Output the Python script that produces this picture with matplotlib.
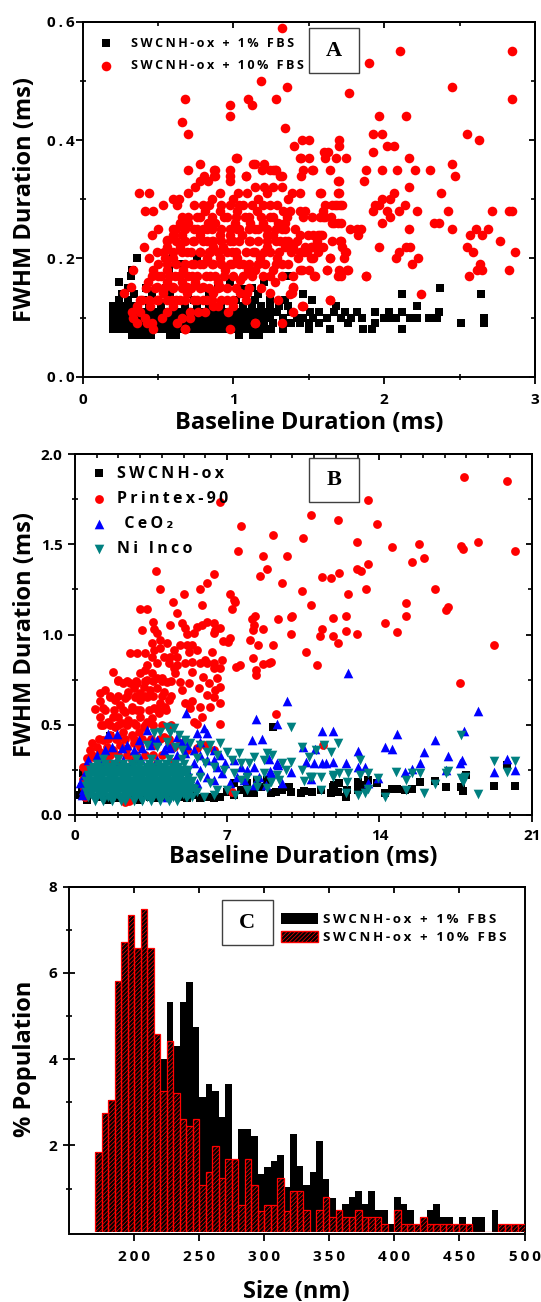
import matplotlib
matplotlib.use("Agg")
import matplotlib.pyplot as plt
from matplotlib.patches import Rectangle, Patch
from matplotlib.ticker import FixedLocator
from matplotlib.legend_handler import HandlerTuple

# ---------------- DATA ----------------
# Panel A : Baseline duration vs FWHM duration (ms)
a_red_pts = [
    (1.325,0.59),(2.106,0.55),(2.85,0.55),(1.90,0.53),(1.18,0.50),(1.357,0.49),(2.447,0.49),(0.677,0.47),
    (1.094,0.47),(1.12,0.46),(1.279,0.47),(1.763,0.48),(2.85,0.47),(0.979,0.46),(0.979,0.44),(0.657,0.43),
    (0.696,0.41),(1.341,0.42),(1.963,0.44),(2.147,0.44),(1.924,0.41),(1.986,0.41),(2.546,0.41),(2.627,0.40),
    (1.456,0.40),(1.502,0.40),(1.403,0.39),(1.60,0.38),(1.625,0.38),(1.703,0.40),(1.703,0.39),(1.924,0.38),
    (2.02,0.39),(2.067,0.39),(1.018,0.37),(1.445,0.37),(1.502,0.37),(1.606,0.37),(1.68,0.37),(1.744,0.37),
    (2.166,0.37),(2.447,0.36),(2.47,0.34),(2.304,0.35),(2.205,0.35),(2.085,0.35),(1.986,0.35),(1.882,0.35),
    (1.866,0.33),(1.703,0.33),(1.525,0.35),(1.445,0.34),(1.463,0.35),(0.696,0.35),(0.776,0.36),(0.873,0.35),
    (0.873,0.34),(0.979,0.35),(1.14,0.36),(1.203,0.36),(1.081,0.34),(1.26,0.35),(1.283,0.35),(1.325,0.34),
    (2.166,0.32),(2.062,0.31),(2.039,0.30),(2.378,0.31),(1.986,0.30),(1.963,0.29),(1.924,0.28),(1.94,0.29),
    (2.02,0.28),(2.039,0.27),(2.101,0.28),(2.14,0.29),(2.22,0.28),(2.424,0.28),(2.712,0.28),(2.827,0.28),
    (2.846,0.28),(1.986,0.26),(2.166,0.25),(2.327,0.26),(2.366,0.26),(2.447,0.25),(2.569,0.24),(2.608,0.25),
    (2.65,0.24),(2.689,0.25),(2.77,0.23),(2.546,0.22),(2.591,0.21),(2.632,0.19),(2.65,0.18),(2.615,0.18),
    (2.562,0.17),(2.827,0.18),(2.869,0.21),(1.963,0.22),(2.101,0.21),(2.078,0.20),(2.147,0.22),(2.17,0.22),
    (2.223,0.20),(2.182,0.19),(2.246,0.14),(1.882,0.17),(1.82,0.25),(1.848,0.25),(1.825,0.24),(1.744,0.21),
    (1.733,0.20),(1.751,0.18),(1.703,0.18),(1.71,0.17),(1.64,0.20),(1.618,0.18),(1.64,0.13),(1.537,0.17),
    (1.456,0.18),(1.398,0.17),(1.398,0.15),(1.376,0.14),(1.456,0.12),(1.398,0.11),(1.325,0.09),(1.14,0.09),
    (0.979,0.08),(0.677,0.08),(1.583,0.31),(1.594,0.28),(1.652,0.29),(1.687,0.29),(1.721,0.29),(1.703,0.31),
    (1.648,0.27),(1.606,0.27),(1.664,0.26),(1.71,0.26),(1.525,0.24),(1.571,0.24),(1.652,0.23),(1.71,0.23),
    (1.594,0.22),(1.721,0.22),(1.47,0.21),(1.514,0.22),(1.56,0.21),(1.514,0.20),
    (0.276,0.141),(0.32,0.151),(0.336,0.18),(0.376,0.31),(0.442,0.31),(0.413,0.28),(0.469,0.28),(0.535,0.29),
    (0.502,0.25),(0.458,0.24),(0.409,0.22),(0.442,0.20),(0.49,0.21),(0.557,0.231),(0.60,0.30),(0.639,0.30),
    (0.623,0.29),(0.70,0.31),(0.745,0.32),(0.778,0.33),(0.805,0.34),(0.833,0.33),(0.878,0.35),(0.878,0.34),
    (0.855,0.30),(0.911,0.31),(0.80,0.29),(0.756,0.27),(0.811,0.28),(0.645,0.26),(0.70,0.26),(0.656,0.27),
    (0.601,0.24),(0.656,0.24),(0.557,0.22),(0.546,0.20),(0.601,0.20),(0.645,0.22),(0.69,0.21),(0.734,0.23),
    (0.778,0.24),(0.833,0.26),(0.878,0.26),(0.911,0.28),(0.955,0.27),(0.977,0.29),(0.999,0.30),(0.977,0.34),
    (0.977,0.33),(1.021,0.37),(1.083,0.34),(1.032,0.31),(1.088,0.31),(1.021,0.28),(1.065,0.29),(1.01,0.26),
    (1.076,0.27),(1.11,0.26),(1.132,0.36),(1.187,0.35),(1.143,0.32),(1.20,0.32),(1.165,0.30),(1.22,0.31),
    (1.154,0.28),(1.198,0.29),(1.143,0.25),(1.198,0.26),(1.054,0.24),(1.11,0.23),(0.977,0.24),(0.999,0.23),
    (0.911,0.24),(0.933,0.22),(0.866,0.22),(0.844,0.21),(0.778,0.21),(0.822,0.20),(0.723,0.19),(0.778,0.19),
    (0.668,0.18),(0.723,0.17),(0.612,0.17),(0.557,0.18),(0.502,0.17),(0.469,0.18),(0.436,0.16),(0.49,0.151),
    (0.557,0.16),(0.601,0.151),(0.656,0.16),(0.69,0.151),(0.745,0.16),(0.80,0.151),(0.844,0.17),(0.90,0.16),
    (0.944,0.18),(0.988,0.19),(0.866,0.141),(0.911,0.151),(0.822,0.13),(0.756,0.13),(0.69,0.141),(0.645,0.13),
    (0.59,0.13),(0.535,0.141),(0.49,0.13),(0.447,0.12),(0.391,0.13),(0.358,0.12),(0.325,0.11),(0.38,0.11),
    (0.336,0.10),(0.358,0.09),(0.413,0.10),(0.424,0.09),(0.464,0.08),(0.458,0.09),(0.524,0.10),(0.557,0.11),
    (0.601,0.12),(0.623,0.09),(0.679,0.08),(0.656,0.10),(0.712,0.10),(0.712,0.11),(0.767,0.11),(0.811,0.11),
    (0.866,0.12),(0.90,0.12),(0.966,0.11),(0.955,0.13),(0.999,0.12),(1.143,0.09),(1.043,0.141),(1.088,0.141),
    (1.043,0.163),(1.099,0.18),(1.021,0.20),(1.065,0.19),(1.132,0.21),(1.176,0.20),(1.143,0.18),(1.198,0.17),
    (1.209,0.19),(1.22,0.22),(1.22,0.24),(1.021,0.25),(0.822,0.25),(0.756,0.25),(0.866,0.23),(0.601,0.25),
    (0.822,0.23),(0.988,0.21),(0.911,0.20),(0.866,0.19),
    (1.242,0.35),(1.275,0.35),(1.309,0.34),(1.264,0.32),(1.32,0.32),(1.364,0.30),(1.386,0.31),(1.441,0.31),
    (1.287,0.29),(1.331,0.28),(1.375,0.28),(1.242,0.27),(1.298,0.26),(1.342,0.26),(1.353,0.27),(1.32,0.25),
    (1.408,0.25),(1.264,0.24),(1.309,0.23),(1.364,0.23),(1.419,0.23),(1.342,0.22),(1.397,0.22),(1.242,0.21),
    (1.287,0.20),(1.32,0.19),(1.264,0.18),(1.32,0.17),(1.275,0.16),(1.242,0.141),(1.298,0.13),(1.397,0.151),
    (1.386,0.141),(1.459,0.12),(1.441,0.28),(1.475,0.28),(1.463,0.27),(1.519,0.27),(1.441,0.24),(1.497,0.24),
    (1.475,0.22),(1.519,0.22),(1.441,0.21),(1.486,0.21),(1.43,0.20),(1.53,0.20),(1.441,0.18),(1.503,0.18),
    (1.541,0.17),(1.574,0.27),(1.596,0.27),(1.563,0.24),(1.585,0.24),(1.552,0.23),(1.574,0.22),(1.651,0.26),
    (1.695,0.26),(1.64,0.20),(1.618,0.18),(1.64,0.13),(1.706,0.23),(1.739,0.21),(1.695,0.17),(1.762,0.18),
    (1.607,0.29),(1.673,0.29),(1.706,0.29),(1.574,0.31),(1.695,0.31),(1.695,0.33),(1.64,0.35),(1.519,0.35),
    (1.441,0.37),(1.773,0.25),(1.879,0.17),
]
# dense core of the 10% FBS cloud (rows: FWHM value -> baseline values)
a_red_cluster = {
    0.13: [0.38,0.44,0.50,0.56,0.62,0.68,0.74,0.80,0.86,0.92,1.00,1.08],
    0.15: [0.42,0.48,0.54,0.60,0.66,0.72,0.78,0.84,0.90,0.96,1.02,1.10,1.18],
    0.17: [0.46,0.52,0.58,0.64,0.70,0.76,0.82,0.88,0.94,1.00,1.06,1.12,1.24],
    0.19: [0.50,0.56,0.62,0.68,0.74,0.80,0.86,0.92,0.98,1.04,1.10,1.16,1.28,1.36],
    0.21: [0.54,0.60,0.66,0.72,0.78,0.84,0.90,0.96,1.02,1.08,1.14,1.20,1.30,1.38],
    0.23: [0.56,0.62,0.68,0.74,0.80,0.86,0.92,0.98,1.04,1.10,1.16,1.22,1.28,1.34],
    0.25: [0.62,0.68,0.74,0.80,0.86,0.92,0.98,1.04,1.10,1.16,1.22,1.28,1.34],
    0.27: [0.70,0.78,0.86,0.94,1.02,1.10,1.18,1.26],
    0.29: [0.74,0.84,0.92,1.04,1.12,1.24],
}
a_black_rows = {
    0.07: [0.33,0.37,0.41,0.45,0.58,0.62,1.04,1.13,1.17],
    0.08: [0.20,0.24,0.28,0.32,0.36,0.40,0.44,0.48,0.52,0.56,0.60,0.64,0.68,0.72,0.76,0.80,0.84,0.88,0.92,
           0.96,1.00,1.04,1.08,1.12,1.16,1.20,1.25,1.33,1.50,1.64,1.86,1.92,2.12],
    0.09: [0.20,0.24,0.28,0.32,0.36,0.40,0.44,0.48,0.52,0.56,0.60,0.64,0.68,0.72,0.76,0.80,0.84,0.88,0.92,
           0.96,1.00,1.04,1.08,1.12,1.16,1.20,1.26,1.38,1.44,1.50,1.57,1.76,1.94,2.51,2.66],
    0.10: [0.20,0.24,0.28,0.32,0.36,0.40,0.44,0.48,0.52,0.56,0.60,0.64,0.68,0.72,0.76,0.80,0.84,0.88,0.92,
           0.96,1.00,1.04,1.08,1.12,1.16,1.20,1.24,1.33,1.42,1.46,1.53,1.62,1.71,1.78,1.85,2.00,2.05,2.08,
           2.17,2.22,2.30,2.35,2.66],
    0.11: [0.20,0.24,0.28,0.32,0.36,0.40,0.44,0.48,0.52,0.56,0.60,0.64,0.68,0.72,0.76,0.80,0.84,0.88,0.92,
           0.96,1.00,1.04,1.08,1.12,1.16,1.20,1.24,1.29,1.38,1.51,1.57,1.67,1.74,1.82,1.94,2.03,2.12,2.36],
    0.12: [0.20,0.24,0.28,0.32,0.36,0.44,0.52,0.60,0.68,0.76,0.84,0.92,1.00,1.06,1.12,1.18,1.24,1.30,1.36,
           1.68,2.22],
    0.13: [0.24,0.30,0.40,0.50,0.62,0.74,0.86,1.02,1.14,1.24,1.34,1.52],
    0.14: [0.26,0.34,0.46,0.58,0.70,0.84,1.06,1.16,1.46,2.12,2.64],
    0.15: [0.30,0.42,0.55,0.90,1.12,2.37],
}
a_black_extra = [(0.36,0.20),(0.32,0.17),(0.24,0.16),(0.33,0.18),(0.57,0.18),(0.60,0.20),(0.76,0.20),
                 (0.98,0.16),(1.36,0.17),(0.65,0.19),(1.20,0.16),(1.065,0.148)]

# Panel B
b_black_pts = [
    (9.1,0.49),(18.0,0.222),(19.86,0.277),(19.26,0.161),(20.23,0.161),(17.85,0.135),(17.77,0.153),(17.08,0.157),
    (16.54,0.19),(15.85,0.181),(15.49,0.142),(15.18,0.139),(14.82,0.142),(14.57,0.142),(14.26,0.124),(13.89,0.175),
    (13.46,0.194),(13.34,0.166),(13.03,0.185),(13.03,0.139),(12.46,0.102),(12.51,0.139),(12.15,0.175),(11.92,0.166),
    (11.77,0.124),(11.85,0.153),(12.08,0.129),(11.31,0.139),(10.92,0.129),(10.54,0.135),(10.38,0.124),(9.95,0.129),
    (9.85,0.153),(9.54,0.139),(9.23,0.129),(9.0,0.12),(1.62,0.437),(0.51,0.24),(8.85,0.194),(8.54,0.157),
    (8.23,0.12),(7.92,0.12),(7.62,0.139),(7.31,0.111),(7.0,0.129),(6.69,0.102),(6.38,0.092),(6.08,0.102),
    (5.77,0.092),(5.46,0.111),(5.15,0.092),(4.85,0.102),(4.54,0.111),(4.23,0.102),(3.77,0.092),(3.46,0.102),
    (3.0,0.083),(2.69,0.092),(2.38,0.083),(1.92,0.092),(1.46,0.083),(1.0,0.102),(0.54,0.083),(0.23,0.111),
    (0.31,0.157),(0.38,0.231),(7.31,0.175),(7.92,0.175),(8.38,0.194),(0.5,0.2),(0.45,0.13),
]
b_red_pts = [
    (17.89,1.874),(19.86,1.852),(13.49,1.745),(10.85,1.662),(12.11,1.634),(13.89,1.612),(9.12,1.551),(10.48,1.533),
    (12.98,1.512),(14.58,1.483),(15.82,1.50),(17.77,1.492),(17.83,1.474),(18.54,1.512),(20.23,1.463),(9.74,1.433),
    (15.48,1.402),(16.03,1.422),(13.46,1.392),(12.98,1.365),(13.14,1.354),(11.34,1.32),(11.77,1.315),(12.14,1.343),
    (9.54,1.283),(10.42,1.241),(13.37,1.252),(16.54,1.252),(12.57,1.223),(10.85,1.162),(15.23,1.173),(17.08,1.136),
    (17.15,1.151),(9.34,1.084),(9.95,1.095),(10.0,1.103),(11.85,1.093),(12.46,1.104),(15.2,1.104),(14.26,1.062),
    (11.34,1.03),(11.28,0.994),(9.92,1.003),(11.86,0.994),(12.45,1.021),(12.98,1.003),(14.82,1.012),(12.11,0.955),
    (9.12,0.942),(19.28,0.942),(10.6,0.901),(9.0,0.846),(11.12,0.831),(17.71,0.733),(9.25,0.56),(11.4,0.39),
    (6.69,1.732),(7.62,1.603),(7.51,1.463),(3.72,1.352),(3.92,1.252),(6.38,1.333),(6.08,1.283),(5.74,1.252),
    (5.0,1.223),(4.49,1.182),(4.69,1.121),(5.85,1.163),(7.15,1.223),(7.31,1.191),(7.38,1.182),(7.23,1.141),
    (3.0,1.141),(3.31,1.141),(3.58,1.071),(3.08,1.025),(3.62,1.03),(4.38,1.053),(4.92,1.066),(5.08,1.034),
    (5.15,1.003),(5.46,1.006),(5.62,1.043),(5.85,1.053),(6.08,1.071),(6.38,1.066),(6.46,1.025),(6.38,1.01),
    (6.69,1.034),(6.82,0.966),(8.15,1.088),(8.29,1.103),(8.18,1.027),(8.21,1.051),(8.05,0.971),(8.42,0.944),
    (8.66,1.029),(8.5,1.325),(8.66,1.434),(8.85,1.365),(8.18,0.87),(8.31,0.805),(8.31,0.777),(8.66,0.838),
    (8.9,0.844),(7.12,0.982),(7.03,0.96),(7.4,0.822),(7.58,0.829),(6.77,0.859),(6.69,0.813),(6.38,0.84),
    (6.38,0.813),(6.08,0.84),(5.77,0.84),(6.0,0.859),(5.38,0.849),(5.38,0.794),(5.89,0.766),(6.15,0.729),
    (6.46,0.693),(5.69,0.702),(6.08,0.665),(6.38,0.656),(6.23,0.60),(5.77,0.60),(5.85,0.545),(6.69,0.622),
    (6.69,0.504),(5.62,0.504),(5.08,0.619),(5.38,0.633),(4.92,0.693),(4.85,0.739),(4.62,0.785),(4.69,0.831),
    (4.23,0.739),(4.0,0.757),(4.38,0.877),(4.69,0.877),(4.54,0.914),(4.85,0.942),(4.23,0.951),(3.92,0.923),
    (3.54,0.951),(3.62,0.914),(4.08,0.877),(3.77,0.84),(3.54,0.877),(3.31,0.831),(3.23,0.896),(2.85,0.899),
    (3.23,0.803),(3.0,0.785),(3.54,0.785),(3.77,0.757),(3.31,0.748),(3.15,0.711),(3.46,0.693),(3.77,0.702),
    (4.08,0.683),(4.31,0.637),(4.15,0.60),(3.92,0.619),(3.62,0.591),(3.85,0.563),(3.31,0.656),(3.0,0.674),
    (2.85,0.729),(2.54,0.729),(2.23,0.729),(2.0,0.748),(1.77,0.794),(1.38,0.693),(1.15,0.674),(1.15,0.633),
    (0.92,0.585),(1.31,0.591),(1.62,0.656),(1.85,0.637),(2.08,0.609),(2.31,0.646),(2.46,0.683),(2.69,0.702),
    (2.77,0.656),(3.0,0.637),(2.62,0.60),(2.85,0.582),(2.31,0.572),(2.0,0.545),(1.77,0.545),(1.54,0.517),
    (1.15,0.545),(1.31,0.499),(1.85,0.489),(2.15,0.508),(2.46,0.526),(2.69,0.508),(3.0,0.545),(3.31,0.517),
    (3.54,0.536),(3.15,0.489),(2.92,0.462),(2.62,0.443),(2.23,0.462),(2.0,0.425),(1.62,0.443),(1.31,0.416),
    (1.0,0.379),(0.77,0.397),(1.15,0.351),(1.46,0.379),(1.77,0.36),(2.08,0.388),(2.38,0.369),(2.69,0.397),
    (3.0,0.379),(3.38,0.406),(3.69,0.388),(4.08,0.434),(4.31,0.406),(4.54,0.379),(4.85,0.397),(5.15,0.36),
    (5.62,0.369),(6.0,0.388),(6.38,0.36),(0.57,0.314),(0.38,0.268),(0.69,0.36),(0.85,0.323),(1.38,0.305),
    (1.92,0.286),(2.62,0.305),(3.77,0.286),(4.54,0.295),(1.62,0.286),(1.0,0.277),(7.2,0.13),(3.92,0.969),
    (3.77,1.006),(4.31,0.84),(4.54,0.813),(5.15,0.942),(5.38,0.942),(5.23,0.905),(5.62,0.914),(5.08,0.84),
    (5.23,0.729),(5.31,0.591),(5.46,0.517),(6.31,0.905),(6.54,0.757),(6.69,0.711),(2.54,0.899),
    (0.35,0.20),(0.4,0.15),(0.45,0.10),(0.6,0.28),(2.5,0.08),(2.3,0.07),(0.5,0.24),
]
# dense part of the Printex-90 cloud (rows: FWHM value -> baseline values)
b_red_cluster = {
    0.33: [0.8,1.2,1.6,2.0,2.4,2.8,3.2,3.6,4.0],
    0.42: [1.1,1.5,1.9,2.3,2.7,3.1,3.5,3.9,4.3],
    0.50: [1.2,1.6,2.0,2.4,2.8,3.2,3.6,4.0,4.4],
    0.58: [1.4,1.8,2.2,2.6,3.0,3.4,3.8,4.2],
    0.66: [1.6,2.0,2.4,2.8,3.2,3.6,4.0,4.4],
    0.74: [2.0,2.4,2.8,3.2,3.6,4.0,4.4],
}
b_blue_pts = [
    (12.57,0.785),(9.74,0.633),(18.54,0.576),(9.28,0.504),(11.34,0.465),(11.85,0.465),(14.8,0.447),(16.54,0.416),
    (14.26,0.379),(14.58,0.366),(10.49,0.375),(11.05,0.364),(13.03,0.357),(16.03,0.351),(17.15,0.329),(10.62,0.295),
    (10.97,0.29),(11.34,0.286),(11.54,0.29),(11.85,0.295),(12.46,0.286),(13.03,0.268),(13.34,0.264),(9.34,0.277),
    (9.92,0.24),(15.18,0.24),(15.49,0.253),(15.88,0.286),(17.06,0.249),(17.72,0.286),(17.8,0.305),(17.89,0.465),
    (19.26,0.236),(19.86,0.308),(20.23,0.249),(10.85,0.199),(9.54,0.175),(13.46,0.175),(13.92,0.203),(9.0,0.231),
    (9.31,0.286),(5.09,0.567),(5.92,0.48),(6.08,0.452),(5.62,0.452),(4.69,0.434),(4.92,0.406),(3.31,0.471),
    (1.92,0.449),(1.54,0.449),(2.92,0.416),(3.77,0.416),(4.23,0.388),(5.15,0.388),(5.77,0.406),(6.38,0.36),
    (6.69,0.332),(6.92,0.286),(7.31,0.305),(7.62,0.268),(7.92,0.249),(8.23,0.268),(8.31,0.53),(8.15,0.416),
    (8.62,0.419),(1.0,0.332),(1.38,0.36),(1.69,0.379),(2.15,0.369),(2.38,0.388),(2.69,0.36),(3.08,0.369),
    (3.46,0.388),(3.54,0.416),(4.08,0.36),(4.38,0.369),(4.69,0.332),(5.08,0.342),(5.46,0.36),(5.77,0.332),
    (6.08,0.305),(6.38,0.305),(6.54,0.268),(5.77,0.249),(6.08,0.212),(5.46,0.286),(5.15,0.249),(0.62,0.305),
    (0.85,0.268),(1.15,0.286),(1.46,0.249),(1.85,0.286),(2.23,0.305),(2.62,0.286),(3.0,0.314),(3.38,0.286),
    (3.77,0.305),(0.38,0.139),(0.23,0.175),(3.92,0.139),(4.23,0.102),(4.54,0.129),(5.08,0.194),(5.62,0.175),
    (6.38,0.194),(6.77,0.231),(7.15,0.175),(7.46,0.212),(7.77,0.194),(8.23,0.166),(8.46,0.212),(8.77,0.166),
    (8.98,0.246),(8.9,0.311),(9.3,0.283),(0.3,0.11),(0.4,0.22),(0.5,0.17),
]
b_teal_pts = [
    (9.92,0.489),(17.74,0.443),(11.46,0.388),(11.77,0.351),(12.09,0.397),(10.46,0.379),(10.77,0.323),(11.08,0.36),
    (9.08,0.332),(9.54,0.29),(9.95,0.295),(10.42,0.249),(10.82,0.212),(11.31,0.212),(11.85,0.222),(12.15,0.231),
    (12.54,0.231),(13.12,0.305),(13.12,0.222),(13.46,0.231),(13.92,0.203),(9.69,0.249),(9.31,0.222),(14.77,0.24),
    (15.23,0.194),(15.49,0.231),(15.85,0.231),(16.54,0.172),(17.08,0.231),(17.15,0.246),(17.77,0.203),(17.92,0.212),
    (17.85,0.185),(18.54,0.116),(19.25,0.299),(19.85,0.24),(20.23,0.299),(16.05,0.12),(15.22,0.139),(14.26,0.102),
    (13.03,0.111),(13.34,0.12),(12.46,0.124),(12.51,0.185),(11.31,0.139),(11.85,0.212),(10.92,0.212),(10.54,0.19),
    (9.0,0.185),(9.38,0.194),(13.46,0.142),
    (4.23,0.489),(4.54,0.48),(4.38,0.452),(3.92,0.462),(3.62,0.452),(4.77,0.443),(5.08,0.416),(5.31,0.397),
    (3.31,0.388),(3.77,0.379),(4.23,0.406),(4.62,0.379),(4.92,0.36),(5.77,0.388),(6.23,0.388),(6.69,0.397),
    (6.08,0.351),(6.54,0.332),(7.0,0.351),(7.54,0.342),(7.23,0.305),(7.62,0.286),(8.0,0.286),(8.23,0.323),
    (8.69,0.305),(8.85,0.342),(5.62,0.314),(6.0,0.286),(6.38,0.268),(6.85,0.249),(7.31,0.231),(7.62,0.194),
    (7.92,0.212),(8.38,0.194),(8.69,0.231),(5.77,0.212),(6.23,0.175),(6.54,0.139),(5.92,0.102),(6.38,0.111),
    (7.0,0.139),(7.38,0.111),(7.92,0.139),(8.38,0.157),(8.85,0.148),(5.38,0.148),(5.15,0.102),
]
# dense Ni Inco cluster at short baseline durations (rows: FWHM value -> baseline values)
b_teal_cluster = {
    0.075: [0.9,1.3,1.7,2.1,2.3,2.7,3.1,3.5,3.9,4.3,4.7],
    0.10: [0.6,0.9,1.2,1.5,1.8,2.1,2.4,2.7,3.0,3.3,3.6,3.9,4.2,4.5,4.8,5.1,5.4],
    0.115: [0.75,1.05,1.35,1.65,1.95,2.25,2.55,2.85,3.15,3.45,3.75,4.05,4.35,4.65,4.95,5.25],
    0.13: [0.5,0.8,1.1,1.4,1.7,2.0,2.3,2.6,2.9,3.2,3.5,3.8,4.1,4.4,4.7,5.0,5.3,5.6],
    0.145: [0.65,0.95,1.25,1.55,1.85,2.15,2.45,2.75,3.05,3.35,3.65,3.95,4.25,4.55,4.85,5.15,5.45],
    0.16: [0.5,0.8,1.1,1.4,1.7,2.0,2.3,2.6,2.9,3.2,3.5,3.8,4.1,4.4,4.7,5.0,5.3],
    0.175: [0.65,0.95,1.25,1.55,1.85,2.15,2.45,2.75,3.05,3.35,3.65,3.95,4.25,4.55,4.85,5.15],
    0.19: [0.5,0.8,1.1,1.4,1.7,2.0,2.3,2.6,2.9,3.2,3.5,3.8,4.1,4.4,4.7,5.0,5.4],
    0.205: [0.65,0.95,1.25,1.55,1.85,2.15,2.45,2.75,3.05,3.35,3.65,3.95,4.25,4.55,4.85,5.2],
    0.22: [0.6,0.9,1.2,1.5,1.8,2.1,2.4,2.7,3.0,3.3,3.6,3.9,4.2,4.5,4.8,5.1],
    0.235: [0.75,1.05,1.35,1.65,1.95,2.25,2.55,2.85,3.15,3.45,3.75,4.05,4.35,4.65,4.95],
    0.25: [0.7,1.0,1.3,1.6,1.9,2.2,2.5,2.8,3.1,3.4,3.7,4.0,4.3,4.6,4.9,5.2],
    0.265: [0.85,1.15,1.45,1.75,2.05,2.35,2.65,2.95,3.25,3.55,3.85,4.15,4.45,4.75],
    0.28: [1.0,1.4,1.8,2.2,2.6,3.0,3.4,3.8,4.2,4.6,5.0],
    0.31: [1.3,2.0,2.8,3.5,4.3,4.9],
}

# Panel C : size histogram, 5 nm bins starting at 170 nm
c_bin_start = 170
c_bin_width = 5
c_fbs1 = [0, 0.16, 0.32, 0.48, 0.8, 1.1, 1.6, 2.1, 2.9, 3.5,
          4.0, 5.33, 4.31, 5.33, 5.78, 4.75, 3.12, 3.42, 3.26, 2.66,
          3.42, 1.34, 2.38, 2.38, 2.23, 1.34, 1.50, 1.64, 1.79, 1.04,
          2.26, 1.53, 1.08, 1.39, 2.11, 1.23, 0.79, 0.35, 0.64, 0.80,
          0.95, 0.64, 0.95, 0.50, 0.50, 0.19, 0.80, 0.64, 0.50, 0.19,
          0.19, 0.50, 0.64, 0.35, 0.35, 0.19, 0.35, 0.19, 0.35, 0.35,
          0, 0.50, 0.19, 0.19, 0.19, 0.19]
c_fbs10 = [1.85, 2.76, 3.06, 5.81, 6.71, 7.34, 6.57, 7.48, 6.57, 4.58,
           3.26, 4.43, 3.22, 2.61, 2.45, 2.61, 1.08, 1.39, 1.99, 1.24,
           1.69, 1.69, 0.62, 1.69, 1.08, 0.47, 0.62, 0.62, 1.24, 0.47,
           0.95, 0.95, 0.50, 0, 0.50, 0.80, 0.35, 0.50, 0.35, 0.35,
           0.50, 0.35, 0.35, 0.35, 0.19, 0, 0.50, 0.19, 0.19, 0.19,
           0.35, 0.19, 0.19, 0.19, 0.19, 0.19, 0.19, 0.19, 0, 0,
           0, 0, 0.19, 0.19, 0.19, 0.19]

lab_A = ["SWCNH-ox + 1% FBS", "SWCNH-ox + 10% FBS"]
lab_B = ["SWCNH-ox", "Printex-90", " CeO\u2082", "Ni Inco"]

# ---------------- STYLE ----------------
plt.rcParams['font.family'] = ['Open Sans', 'DejaVu Sans']
plt.rcParams['font.weight'] = 'bold'
plt.rcParams['axes.linewidth'] = 1.4
plt.rcParams['hatch.color'] = 'black'
plt.rcParams['hatch.linewidth'] = 1.6

THIN = '\u2009'
def sp(s):
    return THIN.join(s)

def unzip(pts):
    return [p[0] for p in pts], [p[1] for p in pts]

def rows_to_pts(rows):
    return [(x, y) for y, xs in rows.items() for x in xs]

fig = plt.figure(figsize=(5.41, 13.02), dpi=100)
W, H = 541.0, 1302.0
def axes_px(l, t, r, b):
    return fig.add_axes([l / W, 1 - b / H, (r - l) / W, (b - t) / H])

axA = axes_px(82.7, 21.7, 535.0, 376.7)
axB = axes_px(75.0, 454.0, 531.7, 815.0)
axC = axes_px(69.1, 886.7, 524.5, 1231.7)

def style(ax, xt, xlabs, xmin, yt, ylabs, ymin, fs, xpad, ypad, ymajdir='out'):
    ax.set_xticks(xt)
    ax.set_xticklabels(xlabs)
    ax.set_yticks(yt)
    ax.set_yticklabels(ylabs)
    if xmin is not None:
        ax.xaxis.set_minor_locator(FixedLocator(xmin))
    if ymin is not None:
        ax.yaxis.set_minor_locator(FixedLocator(ymin))
    ax.tick_params(axis='x', which='major', direction='out', length=5, width=1.3, labelsize=fs, pad=xpad)
    ax.tick_params(axis='y', which='major', direction=ymajdir, length=5 if ymajdir == 'out' else 9,
                   width=1.3, labelsize=fs, pad=ypad)
    ax.tick_params(which='minor', direction='inout', length=4.5, width=1.2)

def mirror(ax, xt, xmin, yt, ymin, do_right=True):
    sx = ax.secondary_xaxis('top')
    sx.set_xticks(xt)
    sx.set_xticklabels([])
    if xmin is not None:
        sx.xaxis.set_minor_locator(FixedLocator(xmin))
    sx.tick_params(which='major', direction='in', length=4.5, width=1.3)
    sx.tick_params(which='minor', direction='in', length=3, width=1.2)
    if do_right:
        sy = ax.secondary_yaxis('right')
        sy.set_yticks(yt)
        sy.set_yticklabels([])
        if ymin is not None:
            sy.yaxis.set_minor_locator(FixedLocator(ymin))
        sy.tick_params(which='major', direction='in', length=4.5, width=1.3)
        sy.tick_params(which='minor', direction='in', length=3, width=1.2)

def letter_box(ax, x0, y0, x1, y1, letter):
    ax.add_patch(Rectangle((x0, y0), x1 - x0, y1 - y0, transform=ax.transAxes,
                           facecolor='white', edgecolor='#404040', lw=1.0, zorder=10, clip_on=False))
    ax.text((x0 + x1) / 2, (y0 + y1) / 2, letter, transform=ax.transAxes, ha='center', va='center',
            family='Liberation Serif', fontweight='bold', fontsize=16, zorder=11)

# ---------------- PANEL A ----------------
bx, by = unzip(rows_to_pts(a_black_rows) + a_black_extra)
rx, ry = unzip(a_red_pts + rows_to_pts(a_red_cluster))
hA1 = axA.scatter(bx, by, s=34, marker='s', c='black', linewidths=0, zorder=3)
hA2 = axA.scatter(rx, ry, s=48, marker='o', c='#ff0000', linewidths=0, zorder=4)
axA.set_xlim(0, 3)
axA.set_ylim(0, 0.6)
xtA = [0, 1, 2, 3]
ytA = [0.0, 0.2, 0.4, 0.6]
style(axA, xtA, [str(v) for v in xtA], [0.5, 1.5, 2.5], ytA, [sp(f"{v:.1f}") for v in ytA],
      [0.1, 0.3, 0.5], 11, 6.5, 0.5)
mirror(axA, xtA, [0.5, 1.5, 2.5], ytA, [0.1, 0.3, 0.5])
axA.set_xlabel("Baseline Duration (ms)", fontsize=17, fontweight='bold')
axA.set_ylabel("FWHM Duration (ms)", fontsize=17, fontweight='bold')
axA.xaxis.set_label_coords(0.5, -0.097)
axA.yaxis.set_label_coords(-0.100, 0.5)
axA.legend([hA1, hA2], [sp(t) for t in lab_A], loc='upper left', bbox_to_anchor=(0.038, 0.958),
           frameon=False, fontsize=9, borderpad=0, borderaxespad=0, handlelength=1.0,
           handletextpad=1.45, labelspacing=0.75, scatterpoints=1)
letter_box(axA, 0.5003, 0.8563, 0.6115, 0.9814, 'A')

# ---------------- PANEL B ----------------
kx, ky = unzip(b_black_pts)
px_, py_ = unzip(b_red_pts + rows_to_pts(b_red_cluster))
ux, uy = unzip(b_blue_pts)
tx, ty = unzip(b_teal_pts + rows_to_pts(b_teal_cluster))
hB1 = axB.scatter(kx, ky, s=26, marker='s', c='black', linewidths=0, zorder=3)
hB2 = axB.scatter(px_, py_, s=40, marker='o', c='#ff0000', linewidths=0, zorder=4)
hB3 = axB.scatter(ux, uy, s=48, marker='^', c='#0000ff', linewidths=0, zorder=5)
hB4 = axB.scatter(tx, ty, s=48, marker='v', c='#008080', linewidths=0, zorder=6)
axB.set_xlim(0, 21)
axB.set_ylim(0, 2.0)
xtB = [0, 7, 14, 21]
ytB = [0.0, 0.5, 1.0, 1.5, 2.0]
xminB = [v for v in range(1, 21) if v % 7 != 0]
yminB = [0.25, 0.75, 1.25, 1.75]
style(axB, xtB, [str(v) for v in xtB], xminB, ytB, [f"{v:.1f}" for v in ytB], yminB, 11, 5, 4)
mirror(axB, xtB, xminB, ytB, yminB)
axB.set_xlabel("Baseline Duration (ms)", fontsize=17, fontweight='bold')
axB.set_ylabel("FWHM Duration (ms)", fontsize=17, fontweight='bold')
axB.xaxis.set_label_coords(0.5, -0.083)
axB.yaxis.set_label_coords(-0.083, 0.5)
axB.legend([hB1, hB2, hB3, hB4], [sp(t) for t in lab_B], loc='upper left', bbox_to_anchor=(0.036, 0.968),
           frameon=False, fontsize=11.5, borderpad=0, borderaxespad=0, handlelength=1.0,
           handletextpad=0.6, labelspacing=0.58, scatterpoints=1)
letter_box(axB, 0.5132, 0.8679, 0.6229, 0.988, 'B')

# ---------------- PANEL C ----------------
edges = [c_bin_start + i * c_bin_width for i in range(len(c_fbs1) + 1)]
lefts = edges[:-1]
axC.stairs(c_fbs1, edges, fill=True, color='black', zorder=2)
axC.bar(lefts, c_fbs10, width=c_bin_width, align='edge', color='#ff0000', hatch='////////',
        linewidth=0, zorder=3)
axC.bar(lefts, c_fbs10, width=c_bin_width, align='edge', fill=False, edgecolor='#ff0000',
        linewidth=0.9, zorder=4)
axC.set_xlim(150, 500)
axC.set_ylim(0, 8)
xtC = [200, 250, 300, 350, 400, 450, 500]
ytC = [2, 4, 6, 8]
style(axC, xtC, [sp(str(v)) for v in xtC], None, ytC, [str(v) for v in ytC], [1, 3, 5, 7], 11, 6, 4,
      ymajdir='inout')
axC.tick_params(axis='y', which='minor', direction='inout', length=5)
axC.spines['bottom'].set_position(('outward', 2))
mirror(axC, xtC[:-1], None, ytC, None, do_right=False)
axC.set_xlabel("Size (nm)", fontsize=17, fontweight='bold')
axC.set_ylabel("% Population", fontsize=17, fontweight='bold')
axC.xaxis.set_label_coords(0.5, -0.14)
axC.yaxis.set_label_coords(-0.070, 0.5)
hC1 = Patch(facecolor='black', edgecolor='black', linewidth=0)
hC2a = Patch(facecolor='#ff0000', hatch='////////', linewidth=0)
hC2b = Patch(fill=False, edgecolor='#ff0000', linewidth=1.0)
axC.legend([hC1, (hC2a, hC2b)], [sp(t) for t in lab_A], loc='upper left', bbox_to_anchor=(0.466, 0.925),
           frameon=False, fontsize=9.5, borderpad=0, borderaxespad=0, handlelength=2.75, handleheight=1.0,
           handletextpad=0.38, labelspacing=0.35, handler_map={tuple: HandlerTuple(ndivide=1)})
letter_box(axC, 0.3351, 0.831, 0.4469, 0.9614, 'C')

fig.savefig("out.png", dpi=100)
